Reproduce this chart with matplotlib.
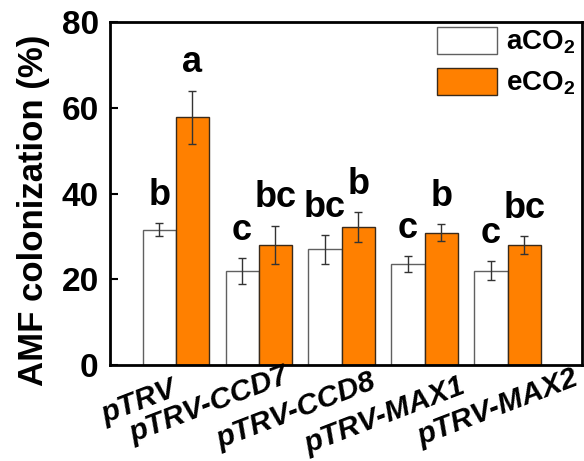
import numpy as np
import matplotlib
matplotlib.use("Agg")
import matplotlib.pyplot as plt
from matplotlib.patches import Patch

plt.rcParams['font.family'] = ['Liberation Sans', 'DejaVu Sans']
plt.rcParams['font.weight'] = 'bold'
plt.rcParams['mathtext.default'] = 'regular'

# data
groups = ['pTRV', 'pTRV-CCD7', 'pTRV-CCD8', 'pTRV-MAX1', 'pTRV-MAX2']
aco2_mean = [31.6, 22.0, 27.0, 23.6, 22.0]
aco2_err = [1.5, 3.0, 3.3, 1.8, 2.2]
eco2_mean = [57.8, 28.0, 32.1, 30.9, 27.9]
eco2_err = [6.2, 4.5, 3.5, 2.0, 2.1]
aco2_sig = ['b', 'c', 'bc', 'c', 'c']
eco2_sig = ['a', 'bc', 'b', 'b', 'bc']

# tick label nudges (points) to follow the hand placement in the original
label_dx = [-26.6, -35.3, -32.4, -28.8, -7.2]
label_dy = [-26.6, -28.8, -33.1, -36.0, -30.2]

fig = plt.figure(figsize=(5.84, 4.61), dpi=100)
ax = fig.add_axes([0.188, 0.208, 0.809, 0.744])

x = np.arange(len(groups))
w = 0.4
ax.bar(x - w / 2, aco2_mean, w, color='white', edgecolor='#606060', linewidth=1.0,
       yerr=aco2_err, error_kw=dict(ecolor='#333333', elinewidth=1.0, capsize=3, capthick=1.0))
ax.bar(x + w / 2, eco2_mean, w, color='#FF8000', edgecolor='#3a2a1a', linewidth=1.0,
       yerr=eco2_err, error_kw=dict(ecolor='#333333', elinewidth=1.0, capsize=3, capthick=1.0))

for i in range(len(groups)):
    ax.text(x[i] - w / 2, aco2_mean[i] + aco2_err[i] + 2.4, aco2_sig[i],
            ha='center', va='bottom', fontsize=26, fontweight='bold')
    ax.text(x[i] + w / 2, eco2_mean[i] + eco2_err[i] + 2.4, eco2_sig[i],
            ha='center', va='bottom', fontsize=26, fontweight='bold')

ax.set_xlim(-0.795, 4.9)
ax.set_ylim(0, 80)
ax.set_yticks([0, 20, 40, 60, 80])
ax.tick_params(axis='y', direction='in', length=6, width=1.5, labelsize=24, pad=8)
ax.set_xticks([])
for s in ax.spines.values():
    s.set_linewidth(2)

for i, g in enumerate(groups):
    ax.annotate(g, xy=(x[i], 0), xycoords='data',
                xytext=(label_dx[i], label_dy[i]), textcoords='offset points',
                ha='center', va='center', rotation=21, rotation_mode='anchor',
                fontsize=21.5, fontweight='bold', fontstyle='italic',
                annotation_clip=False)

ax.set_ylabel('AMF colonization (%)', fontsize=25, fontweight='bold')
ax.yaxis.set_label_coords(-0.127, 0.452)

handles = [Patch(facecolor='white', edgecolor='#606060', linewidth=1.0),
           Patch(facecolor='#FF8000', edgecolor='#3a2a1a', linewidth=1.0)]
ax.legend(handles, ['aCO$_2$', 'eCO$_2$'], loc='upper left',
          bbox_to_anchor=(0.693, 0.985), frameon=False,
          handlelength=2.16, handleheight=1.08, labelspacing=0.43,
          handletextpad=0.3, borderpad=0, borderaxespad=0,
          prop={'weight': 'bold', 'size': 20})

fig.savefig('out.png', dpi=100)
